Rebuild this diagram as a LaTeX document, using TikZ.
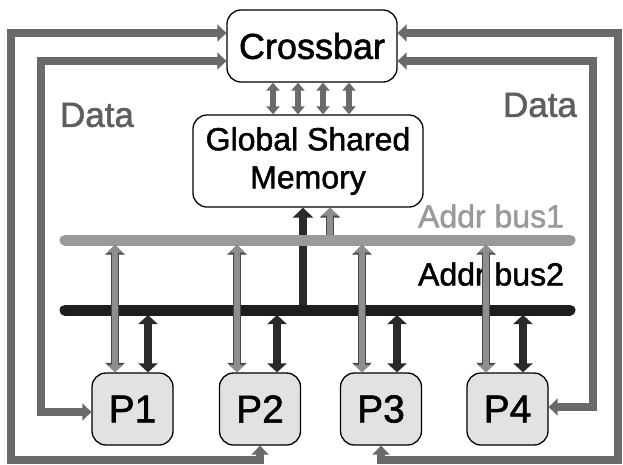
\documentclass[tikz,border=0pt]{standalone}
\usepackage{fontspec}
\setmainfont[FakeBold=1.5]{Liberation Sans}
\usetikzlibrary{arrows.meta}
\definecolor{dataC}{HTML}{6A6A6A}
\definecolor{dataT}{HTML}{5E5E5E}
\definecolor{busA}{HTML}{9A9A9A}
\definecolor{busB}{HTML}{1E1E1E}
\definecolor{arrG}{HTML}{8E8E8E}
\definecolor{arrD}{HTML}{2A2A2A}
\definecolor{edgeC}{HTML}{4A4A4A}
\definecolor{procF}{HTML}{E2E2E2}
\tikzset{
  box/.style={draw=black, line width=1.3pt, rounded corners=14pt, fill=white, align=center, inner sep=0pt},
  proc/.style={box, fill=procF, minimum width=81pt, minimum height=72pt, font=\fontsize{39}{40}\selectfont},
  datal/.style={draw=dataC, line width=8pt, {Triangle[width=17pt,length=9pt]}-{Triangle[width=17pt,length=9pt]}},
  garrow/.style={preaction={draw=edgeC, line width=8pt, {Triangle[width=19pt,length=9.5pt]}-{Triangle[width=19pt,length=9.5pt]}},
    draw=arrG, line width=6pt, {Triangle[width=15.5pt,length=7.5pt]}-{Triangle[width=15.5pt,length=7.5pt]}},
  darrow/.style={draw=arrD, line width=8pt, {Triangle[width=19pt,length=9pt]}-{Triangle[width=19pt,length=9pt]}},
  cmarrow/.style={draw=dataC, line width=6pt, {Triangle[width=13pt,length=8pt]}-{Triangle[width=13pt,length=8pt]}},
  bus/.style={line width=11pt, line cap=round},
  lbl/.style={inner sep=0pt}
}
\begin{document}
\begin{tikzpicture}[x=1pt,y=-1pt]
\useasboundingbox[fill=white] (0,0) rectangle (623,464);
% nodes
\node[box, minimum width=170pt, minimum height=72pt, font=\fontsize{36}{38}\selectfont] (cb) at (312,46) {Crossbar};
\node[box, minimum width=230pt, minimum height=92pt, font=\fontsize{32}{38}\selectfont] (mem) at (308,161) {Global Shared\\Memory};
\node[proc] (p1) at (132.5,409) {P1};
\node[proc] (p2) at (260,409) {P2};
\node[proc] (p3) at (381,409) {P3};
\node[proc] (p4) at (507.5,409) {P4};
% labels
\node[lbl, text=dataT, font=\fontsize{35}{36}\selectfont] (dl) at (97,115) {Data};
\node[lbl, text=dataT, font=\fontsize{35}{36}\selectfont] (dr) at (540,105) {Data};
\node[lbl, text=busA, font=\fontsize{32}{34}\selectfont] (l1) at (491,216) {Addr bus1};
\node[lbl, text=black, font=\fontsize{32}{34}\selectfont] (l2) at (491,274) {Addr bus2};
% coordinates
\coordinate (b1l) at (65,240); \coordinate (b1r) at (570,240);
\coordinate (b2l) at (65,310); \coordinate (b2r) at (570,310);
\coordinate (ol1) at (11,33);  \coordinate (ol2) at (11,460);
\coordinate (il1) at (41,61);  \coordinate (il2) at (41,412);
\coordinate (or1) at (618,33); \coordinate (or2) at (618,460);
\coordinate (ir1) at (593,61); \coordinate (ir2) at (593,407);
% data lines
\draw[datal] (cb.west |- ol1) -- (ol1) -- (ol2) -| (p2.south);
\draw[datal] (cb.west |- il1) -- (il1) -- (il2) -- (p1.west |- il2);
\draw[datal] (cb.east |- or1) -- (or1) -- (or2) -| (p3.south);
\draw[datal] (cb.east |- ir1) -- (ir1) -- (ir2) -- (p4.east |- ir2);
% crossbar-memory
\foreach \dx in {-39,-14,11,37} {
  \draw[cmarrow] ([xshift=\dx pt]cb.south) -- ([xshift=\dx pt]cb.south |- mem.north);
}
% bus to memory (dark one passes under bus1)
\draw[draw=arrD, line width=8pt, -{Triangle[width=20pt,length=10pt]}] (303,310) coordinate (m2) -- (m2 |- mem.south);
% buses
\draw[bus, draw=busA] (b1l) -- (b1r);
\draw[bus, draw=busB] (b2l) -- (b2r);
\draw[preaction={draw=edgeC, line width=8pt, -{Triangle[width=20pt,length=10pt]}}, draw=arrG, line width=6pt, -{Triangle[width=16.5pt,length=8pt]}, shorten <=5pt] (330,240) coordinate (m1) -- (m1 |- mem.south);
% processor arrows
\foreach \p/\g/\d in {p1/-17.5/15.5, p2/-23/17, p3/-19/16, p4/-21.5/15.5} {
  \draw[darrow, shorten <=5pt] ([xshift=\d pt]\p.north |- b2l) -- ([xshift=\d pt]\p.north);
  \draw[garrow, shorten <=5pt] ([xshift=\g pt]\p.north |- b1l) -- ([xshift=\g pt]\p.north);
}
\end{tikzpicture}
\end{document}
